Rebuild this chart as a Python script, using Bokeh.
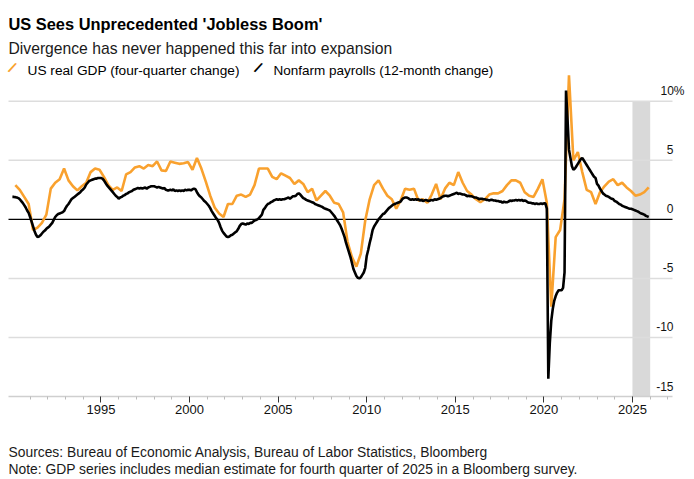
from bokeh.plotting import figure
from bokeh.layouts import column
from bokeh.models import Range1d, Label, BoxAnnotation, FixedTicker
from bokeh.embed import file_html
from bokeh.resources import INLINE

FONT = "Liberation Sans"

# ---------------- text ----------------
title_text = "US Sees Unprecedented 'Jobless Boom'"
subtitle_text = "Divergence has never happened this far into expansion"
gdp_name = "US real GDP (four-quarter change)"
payroll_name = "Nonfarm payrolls (12-month change)"
source_text = "Sources: Bureau of Economic Analysis, Bureau of Labor Statistics, Bloomberg"
note_text = "Note: GDP series includes median estimate for fourth quarter of 2025 in a Bloomberg survey."

# ---------------- data ----------------
first_year = 1990

# Real GDP, % change from four quarters earlier, 1990Q1 .. 2025Q4
gdp_yoy = [
    2.9, 2.5, 1.9, 1.3,      # 1990
    -0.9, -0.7, -0.3, 0.4,   # 1991
    2.6, 3.1, 3.4, 4.3,      # 1992
    3.3, 2.8, 2.45, 2.8,     # 1993
    3.1, 4.0, 4.3, 4.2,      # 1994
    3.6, 2.9, 2.5, 2.7,      # 1995
    2.4, 3.8, 4.0, 4.4,      # 1996
    4.5, 4.3, 4.6, 4.5,      # 1997
    4.9, 4.15, 4.1, 4.9,     # 1998
    4.8, 4.7, 4.75, 4.85,    # 1999
    4.2, 5.2, 4.3, 3.2,      # 2000
    2.0, 1.0, 0.5, 0.2,      # 2001
    1.3, 1.3, 2.0, 2.1,      # 2002
    1.9, 2.1, 2.9, 4.3,      # 2003
    4.3, 4.3, 3.6, 3.4,      # 2004
    3.9, 3.7, 3.5, 3.0,      # 2005
    3.3, 3.0, 2.3, 2.6,      # 2006
    1.6, 2.0, 2.4, 2.0,      # 2007
    1.4, 1.3, 0.6, -1.9,     # 2008
    -3.2, -4.0, -2.9, -0.1,  # 2009
    1.7, 2.9, 3.3, 2.6,      # 2010
    2.0, 1.7, 0.9, 1.6,      # 2011
    2.6, 2.5, 2.6, 1.6,      # 2012
    1.7, 1.4, 2.1, 3.0,      # 2013
    1.7, 2.6, 3.1, 2.9,      # 2014
    4.0, 3.1, 2.4, 2.1,      # 2015
    1.7, 1.45, 1.7, 2.1,     # 2016
    2.2, 2.2, 2.4, 2.9,      # 2017
    3.3, 3.3, 3.1, 2.3,      # 2018
    2.0, 1.9, 2.6, 3.4,      # 2019
    1.4, -7.4, -1.5, -0.9,   # 2020
    1.7, 12.2, 5.0, 5.7,     # 2021
    4.0, 2.5, 2.3, 1.3,      # 2022
    2.3, 2.8, 3.2, 3.4,      # 2023
    2.9, 3.1, 2.7, 2.4,      # 2024
    2.0, 2.1, 2.3, 2.7,      # 2025
]

# Nonfarm payrolls, % change from 12 months earlier, Jan 1990 .. Dec 2025
payrolls_yoy = [
    1.9, 1.9, 1.88, 1.85, 1.8, 1.7, 1.55, 1.4, 1.2, 1.0, 0.75, 0.55,            # 1990
    0.2, -0.2, -0.6, -1.0, -1.3, -1.5, -1.45, -1.35, -1.2, -1.05, -0.95, -0.8,  # 1991
    -0.7, -0.6, -0.45, -0.3, -0.05, 0.2, 0.35, 0.45, 0.5, 0.55, 0.6, 0.7,       # 1992
    0.95, 1.15, 1.3, 1.5, 1.7, 1.8, 1.9, 2.0, 2.1, 2.2, 2.3, 2.45,              # 1993
    2.55, 2.7, 2.95, 3.1, 3.25, 3.3, 3.35, 3.4, 3.45, 3.45, 3.5, 3.5,           # 1994
    3.5, 3.45, 3.3, 3.1, 2.9, 2.75, 2.6, 2.45, 2.3, 2.15, 2.0, 1.9,             # 1995
    1.75, 1.85, 1.9, 2.0, 2.05, 2.15, 2.2, 2.3, 2.35, 2.4, 2.5, 2.55,           # 1996
    2.6, 2.65, 2.6, 2.65, 2.6, 2.65, 2.7, 2.6, 2.7, 2.75, 2.8, 2.8,             # 1997
    2.8, 2.75, 2.7, 2.75, 2.7, 2.65, 2.6, 2.65, 2.5, 2.45, 2.45, 2.5,           # 1998
    2.45, 2.55, 2.4, 2.45, 2.4, 2.45, 2.4, 2.45, 2.4, 2.5, 2.45, 2.5,           # 1999
    2.5, 2.45, 2.55, 2.6, 2.55, 2.3, 2.1, 1.95, 1.85, 1.7, 1.55, 1.45,          # 2000
    1.3, 1.15, 0.95, 0.7, 0.5, 0.3, 0.1, -0.05, -0.3, -0.65, -0.95, -1.15,      # 2001
    -1.3, -1.45, -1.5, -1.45, -1.35, -1.3, -1.2, -1.1, -1.0, -0.8, -0.55, -0.4, # 2002
    -0.35, -0.4, -0.45, -0.35, -0.4, -0.3, -0.3, -0.2, -0.1, -0.05, 0.0, 0.1,   # 2003
    0.25, 0.4, 0.8, 0.95, 1.15, 1.3, 1.35, 1.45, 1.5, 1.6, 1.65, 1.7,           # 2004
    1.65, 1.7, 1.65, 1.7, 1.7, 1.75, 1.8, 1.85, 1.75, 1.85, 1.95, 1.95,         # 2005
    2.0, 2.15, 2.2, 2.1, 1.95, 1.8, 1.75, 1.65, 1.6, 1.55, 1.5, 1.45,           # 2006
    1.4, 1.3, 1.25, 1.2, 1.15, 1.1, 1.05, 0.95, 0.9, 0.85, 0.8, 0.75,           # 2007
    0.6, 0.45, 0.3, 0.1, -0.1, -0.3, -0.5, -0.8, -1.15, -1.5, -2.0, -2.4,       # 2008
    -2.8, -3.2, -3.7, -4.2, -4.5, -4.8, -4.95, -5.0, -4.9, -4.7, -4.5, -4.1,    # 2009
    -3.1, -2.6, -2.0, -1.5, -0.9, -0.6, -0.4, -0.2, 0.0, 0.15, 0.3, 0.45,       # 2010
    0.5, 0.65, 0.8, 0.95, 1.05, 1.15, 1.25, 1.3, 1.35, 1.4, 1.45, 1.5,          # 2011
    1.7, 1.8, 1.85, 1.85, 1.8, 1.7, 1.65, 1.7, 1.65, 1.7, 1.65, 1.7,            # 2012
    1.6, 1.65, 1.55, 1.6, 1.65, 1.6, 1.55, 1.6, 1.65, 1.6, 1.7, 1.65,           # 2013
    1.7, 1.75, 1.8, 1.9, 1.95, 2.0, 2.0, 1.95, 2.0, 2.05, 2.1, 2.15,            # 2014
    2.2, 2.25, 2.15, 2.2, 2.15, 2.1, 2.1, 2.05, 1.95, 2.0, 1.95, 1.95,          # 2015
    1.9, 1.85, 1.85, 1.8, 1.7, 1.75, 1.75, 1.7, 1.7, 1.65, 1.65, 1.6,           # 2016
    1.65, 1.65, 1.6, 1.6, 1.55, 1.55, 1.5, 1.5, 1.4, 1.5, 1.45, 1.45,           # 2017
    1.5, 1.6, 1.55, 1.6, 1.6, 1.65, 1.6, 1.65, 1.6, 1.65, 1.55, 1.6,            # 2018
    1.55, 1.45, 1.4, 1.4, 1.35, 1.35, 1.3, 1.35, 1.3, 1.3, 1.35, 1.3,           # 2019
    1.35, 1.35, 0.9, -13.5, -10.5, -8.6, -7.6, -6.9, -6.5, -6.2, -6.0, -6.0,    # 2020
    -6.0, -5.8, -4.5, 10.9, 8.5, 5.9, 5.2, 4.5, 4.2, 4.3, 4.5, 4.7,             # 2021
    4.9, 5.1, 5.2, 5.0, 4.8, 4.6, 4.4, 4.2, 4.0, 3.8, 3.6, 3.5,                 # 2022
    3.0, 2.85, 2.6, 2.4, 2.2, 2.1, 2.0, 1.95, 1.9, 1.8, 1.75, 1.7,              # 2023
    1.55, 1.5, 1.4, 1.3, 1.25, 1.15, 1.1, 1.05, 1.0, 0.95, 0.9, 0.9,            # 2024
    0.85, 0.8, 0.75, 0.7, 0.65, 0.55, 0.5, 0.45, 0.4, 0.3, 0.25, 0.2,           # 2025
]

y_ticks = [10, 5, 0, -5, -10, -15]
y_tick_labels = ["10%", "5", "0", "-5", "-10", "-15"]
x_major_ticks = [1995, 2000, 2005, 2010, 2015, 2020, 2025]
x_minor_ticks = [y for y in range(1991, 2028) if y not in x_major_ticks]

shade_start, shade_end = 2025.0, 2026.0

# axis extents of the chart area
x_lo, x_hi = 1989.78, 2027.26
y_lo, y_hi = y_ticks[-1], y_ticks[0]

# dates (decimal years): monthly points at month start, quarterly at the quarter's last month
pay_x = [first_year + i / 12 for i in range(len(payrolls_yoy))]
gdp_x = [first_year + (3 * i + 2) / 12 for i in range(len(gdp_yoy))]

# ---------------- layout (pixels) ----------------
W, H = 694, 479
AREA_LEFT, AREA_RIGHT = 8, 672      # chart area inside the canvas
AREA_BOTTOM = 396                   # y of the x axis
AXIS_PANEL = 30                     # room for the x-axis ticks and labels
PX_PER_UNIT = 11.81                 # vertical scale
MAIN_H = AREA_BOTTOM + AXIS_PANEL
FOOT_H = H - MAIN_H

px_per_year = (AREA_RIGHT - AREA_LEFT) / (x_hi - x_lo)
frame_x0 = x_lo - AREA_LEFT / px_per_year
frame_x1 = x_hi + (W - AREA_RIGHT) / px_per_year
frame_y0 = y_lo
frame_y1 = y_lo + AREA_BOTTOM / PX_PER_UNIT

p = figure(width=W, height=MAIN_H, x_range=Range1d(frame_x0, frame_x1), y_range=Range1d(frame_y0, frame_y1),
           output_backend="svg", toolbar_location=None, y_axis_location=None,
           min_border_left=0, min_border_right=0, min_border_top=0, min_border_bottom=AXIS_PANEL)
p.outline_line_color = None
p.background_fill_color = "white"
p.border_fill_color = "white"
p.xgrid.visible = False
p.ygrid.visible = False

# x axis
p.xaxis.bounds = (x_lo, x_hi)
p.xaxis.ticker = FixedTicker(ticks=x_major_ticks, minor_ticks=x_minor_ticks)
p.xaxis.axis_line_color = "#cfcfcf"
p.xaxis.axis_line_width = 1.5
p.xaxis.major_tick_line_color = "#333333"
p.xaxis.major_tick_out = 6
p.xaxis.major_tick_in = 0
p.xaxis.minor_tick_line_color = "#bbbbbb"
p.xaxis.minor_tick_out = 3
p.xaxis.minor_tick_in = 0
p.xaxis.major_label_text_font = FONT
p.xaxis.major_label_text_font_size = "13px"
p.xaxis.major_label_text_color = "#111111"
p.xaxis.major_label_standoff = 2

# shaded period
p.add_layout(BoxAnnotation(left=shade_start, right=shade_end, bottom=y_lo, top=y_hi,
                           fill_color="#d9d9d9", fill_alpha=1.0, line_color=None, level="underlay"))

# horizontal gridlines (limited to the chart area) and the zero line
grid_vals = [t for t in y_ticks if t not in (0, y_lo)]
p.segment(x0=x_lo, x1=x_hi, y0=grid_vals, y1=grid_vals, line_color="#dddddd", line_width=1.5)
p.segment(x0=[x_lo], x1=[x_hi], y0=[0], y1=[0], line_color="black", line_width=1.2)

# series
p.line(gdp_x, gdp_yoy, line_color="#f9a12e", line_width=2.6)
p.line(pay_x, payrolls_yoy, line_color="black", line_width=2.6)

# right-hand value labels, sitting above their gridlines
for val, lab in zip(y_ticks, y_tick_labels):
    extra = 11 if lab.endswith("%") else 0
    p.add_layout(Label(x=x_hi, y=val, text=lab, text_align="right", text_baseline="middle",
                       x_offset=1 + extra, y_offset=10.5, text_font=FONT,
                       text_font_size="12px", text_color="#111111"))

# header: title, subtitle, legend (baselines given in px from the top)
def header(text, baseline, size, style="normal", xoff=0, color="#000000"):
    p.add_layout(Label(x=x_lo, y=frame_y1, text=text, text_align="left", text_baseline="alphabetic",
                       x_offset=xoff, y_offset=-baseline, text_font=FONT, text_font_size=size,
                       text_font_style=style, text_color=color))

header(title_text, 23, "16.4px", "bold")
header(subtitle_text, 48, "15.7px", color="#1a1a1a")
header(gdp_name, 70, "13.7px", xoff=19)
header(payroll_name, 70, "13.5px", xoff=265)

def icon(xoff, color):
    p.add_layout(Label(x=x_lo, y=frame_y1, text="/", text_align="center", text_baseline="middle",
                       x_offset=xoff, y_offset=-67, angle=-0.55, text_font=FONT,
                       text_font_size="15px", text_font_style="bold", text_color=color))

icon(4, "#f9a12e")
icon(250, "#000000")

# ---------------- footer strip (pixel coordinates, y downwards) ----------------
foot = figure(width=W, height=FOOT_H, x_range=Range1d(0, W), y_range=Range1d(FOOT_H, 0),
              output_backend="svg", toolbar_location=None, x_axis_location=None, y_axis_location=None,
              min_border_left=0, min_border_right=0, min_border_top=0, min_border_bottom=0)
foot.outline_line_color = None
foot.background_fill_color = "white"
foot.border_fill_color = "white"
foot.xgrid.visible = False
foot.ygrid.visible = False

for text, baseline in ((source_text, 451), (note_text, 468)):
    foot.add_layout(Label(x=AREA_LEFT, y=baseline - MAIN_H, text=text, text_align="left",
                          text_baseline="alphabetic", text_font=FONT, text_font_size="13.85px",
                          text_color="#1a1a1a"))

layout = column(p, foot, spacing=0)
open("out.html", "w").write(file_html(layout, INLINE))
